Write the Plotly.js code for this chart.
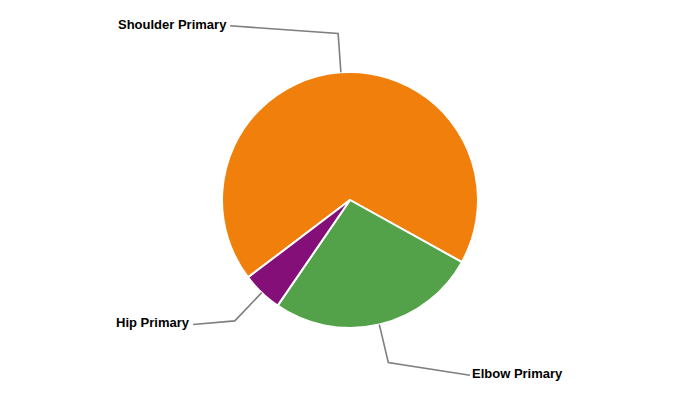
<!DOCTYPE html>
<html>
<head>
<meta charset="utf-8">
<script src="https://cdn.plot.ly/plotly-3.0.1.min.js"></script>
<style>html,body{margin:0;padding:0;background:#fff;}#chart{width:700px;height:400px;}</style>
</head>
<body>
<div id="chart"></div>
<script>
// ---- data ----
var categories = ["Shoulder Primary", "Elbow Primary", "Hip Primary"];
var values = [68.4, 26.5, 5.1];

// ---- styles / layout constants ----
var colors = ["#F07F0B", "#53A249", "#850F78"];
var W = 700, H = 400;
var cx = 350, cy = 200, R = 128;
var rotationDeg = 232.8;
var bendR = 167;
// label end offsets from bend point (px): [dx, dy]
var labelOffsets = [[-108, -7.6], [81.6, 12.7], [-41.7, 3.6]];

function px2x(p) { return p / W; }
function px2y(p) { return 1 - p / H; }

var total = values.reduce(function (a, b) { return a + b; }, 0);
var shapes = [], annotations = [];
var cum = 0;
for (var i = 0; i < values.length; i++) {
  var a = rotationDeg * Math.PI / 180 + 2 * Math.PI * (cum + values[i] / 2) / total;
  cum += values[i];
  var sx = cx + R * Math.sin(a), sy = cy - R * Math.cos(a);
  var bx = cx + bendR * Math.sin(a), by = cy - bendR * Math.cos(a);
  var ex = bx + labelOffsets[i][0], ey = by + labelOffsets[i][1];
  shapes.push({
    type: "path", xref: "paper", yref: "paper",
    path: "M " + px2x(sx) + "," + px2y(sy) + " L " + px2x(bx) + "," + px2y(by) + " L " + px2x(ex) + "," + px2y(ey),
    line: { color: "#7f7f7f", width: 1.6 }
  });
  var right = labelOffsets[i][0] > 0;
  annotations.push({
    xref: "paper", yref: "paper",
    x: px2x(ex + (right ? 0 : -1)), y: px2y(ey - 1.5),
    xanchor: right ? "left" : "right", yanchor: "middle",
    text: "<b>" + categories[i] + "</b>", showarrow: false,
    font: { family: "Liberation Sans, Arial, sans-serif", size: 13, color: "#000" }
  });
}

var trace = {
  type: "pie",
  labels: categories,
  values: values,
  sort: false,
  direction: "clockwise",
  rotation: rotationDeg,
  textinfo: "none",
  hoverinfo: "label+percent",
  marker: { colors: colors, line: { color: "#ffffff", width: 2 } },
  domain: { x: [0, 1], y: [(H - cy - R) / H, (H - cy + R) / H] }
};

var layout = {
  width: W, height: H,
  margin: { l: 0, r: 0, t: 0, b: 0 },
  showlegend: false,
  paper_bgcolor: "#fff",
  shapes: shapes,
  annotations: annotations
};

Plotly.newPlot("chart", [trace], layout, { displayModeBar: false, staticPlot: true });
</script>
</body>
</html>
